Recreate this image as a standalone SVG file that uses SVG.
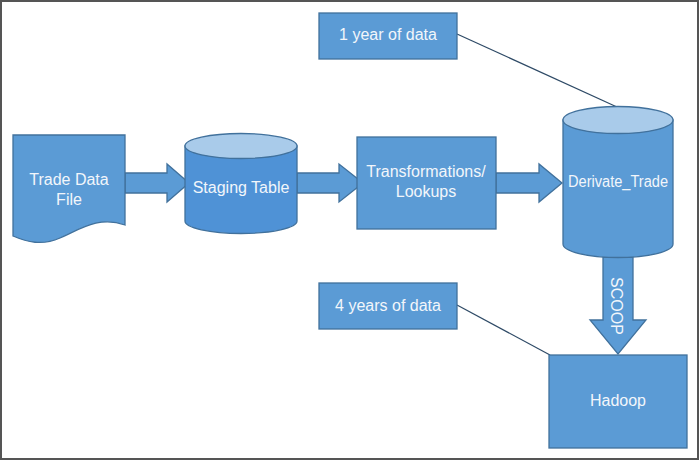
<svg xmlns="http://www.w3.org/2000/svg" width="700" height="461" viewBox="0 0 700 461">
<style>
.shape{fill:#5B9BD5;stroke:#41719C;stroke-width:1.3}
.dark{fill:#4F92D6;stroke:#41719C;stroke-width:1.3}
.cap{fill:#A9CBEA;stroke:#41719C;stroke-width:1.3}
.lbl{font-family:"Liberation Sans",Arial,sans-serif;font-size:16px;fill:#F2F6FB;text-anchor:middle}
.conn{stroke:#2E4A66;stroke-width:1.2;fill:none}
</style>
<rect x="1" y="1" width="697" height="458" fill="#FFFFFF" stroke="#555555" stroke-width="2"/>
<g id="connectors">
<polygon class="shape" points="125,173 167,173 167,164 189,183 167,202 167,193 125,193"/>
<polygon class="shape" points="297,173 339,173 339,164 363,183 339,202 339,193 297,193"/>
<polygon class="shape" points="496,173 539,173 539,164 562,183 539,202 539,193 496,193"/>
<polygon class="shape" points="603,257 633,257 633,320 646,320 618,354 590,320 603,320"/>
<text class="lbl" transform="translate(611,306) rotate(90)">SCOOP</text>
<line class="conn" x1="457" y1="34" x2="617" y2="107"/>
<line class="conn" x1="457" y1="305" x2="550" y2="355"/>
</g>
<g id="trade-data-file">
<path class="shape" d="M13,135 H125 V225 C100,216 82,228 60,238 C42,246 27,242 13,236 Z"/>
<text class="lbl" x="69" y="185">Trade Data</text>
<text class="lbl" x="69" y="205">File</text>
</g>
<g id="staging-table">
<path class="dark" d="M185,146 V221 A56,12.5 0 0 0 297,221 V146 Z"/>
<ellipse class="cap" cx="241" cy="146" rx="56" ry="12.5"/>
<text class="lbl" x="241" y="193">Staging Table</text>
</g>
<g id="transformations">
<rect class="shape" x="357" y="137" width="139" height="92"/>
<text class="lbl" x="426" y="177">Transformations/</text>
<text class="lbl" x="426" y="197">Lookups</text>
</g>
<g id="derivate-trade">
<path class="shape" d="M563,120 V244 A55,13.5 0 0 0 673,244 V120 Z"/>
<ellipse class="cap" cx="618" cy="120" rx="55" ry="13.5"/>
<text class="lbl" x="618" y="187" textLength="100" lengthAdjust="spacingAndGlyphs">Derivate_Trade</text>
</g>
<g id="one-year">
<rect class="shape" x="319" y="13" width="138" height="46"/>
<text class="lbl" x="388" y="40">1 year of data</text>
</g>
<g id="four-years">
<rect class="shape" x="319" y="283" width="138" height="46"/>
<text class="lbl" x="388" y="311">4 years of data</text>
</g>
<g id="hadoop">
<rect class="shape" x="549" y="355" width="138" height="93"/>
<text class="lbl" x="618" y="406">Hadoop</text>
</g>
</svg>
